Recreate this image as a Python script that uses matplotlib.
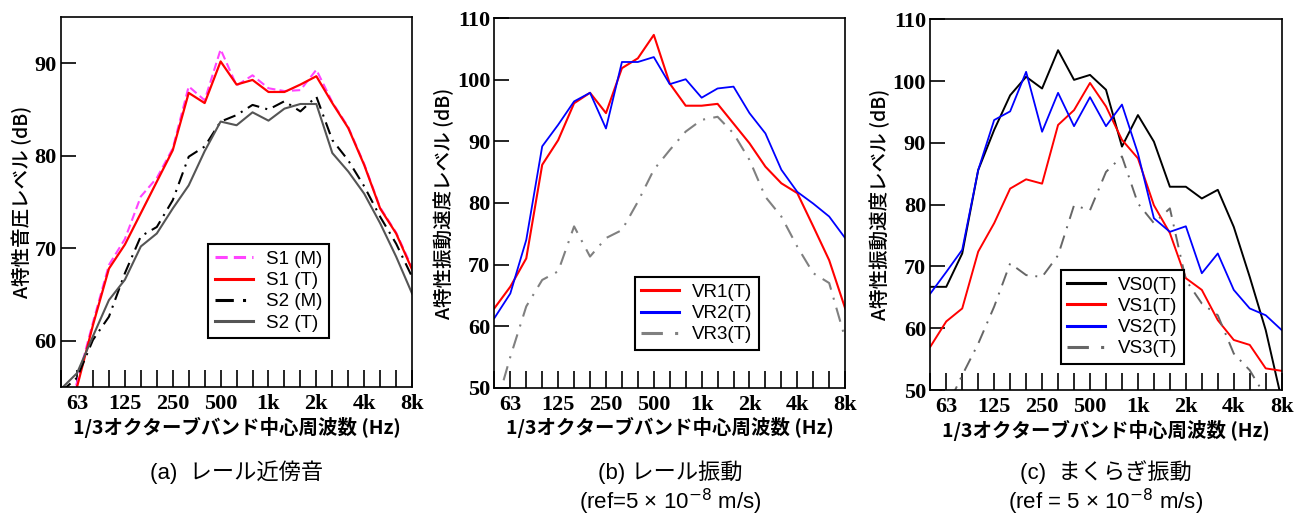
import matplotlib
matplotlib.use('Agg')
import matplotlib.pyplot as plt
import numpy as np

plt.rcParams['font.family'] = ['Noto Sans CJK JP', 'DejaVu Sans']

# 1/3 octave band centres, 50 Hz .. 8 kHz
bands = ['50', '63', '80', '100', '125', '160', '200', '250', '315', '400', '500', '630',
         '800', '1k', '1.25k', '1.6k', '2k', '2.5k', '3.15k', '4k', '5k', '6.3k', '8k']
tick_idx = [1, 4, 7, 10, 13, 16, 19, 22]
tick_lab = ['63', '125', '250', '500', '1k', '2k', '4k', '8k']

# (a) rail near-field sound
s1_m = [50, 55.5, 62.0, 68.2, 71.0, 75.6, 77.6, 80.8, 87.5, 86.0, 91.5, 87.6, 88.7, 87.3, 87.0, 87.1, 89.3, 85.8, 83.1, 79.1, 74.4, 71.7, 67.9]
s1_t = [50, 55.0, 61.7, 67.8, 70.4, 73.8, 77.2, 80.6, 86.8, 85.7, 90.2, 87.7, 88.2, 86.9, 86.9, 87.7, 88.6, 85.7, 83.0, 79.0, 74.3, 71.6, 67.7]
s2_m = [54.5, 56.0, 60.1, 62.6, 67.3, 71.3, 72.3, 75.2, 79.9, 81.0, 83.7, 84.4, 85.5, 85.0, 85.9, 84.8, 86.4, 81.7, 79.5, 76.7, 73.4, 70.5, 66.9]
s2_t = [54.8, 56.5, 60.5, 64.4, 66.6, 70.2, 71.6, 74.3, 76.8, 80.5, 83.7, 83.3, 84.7, 83.8, 85.1, 85.6, 85.6, 80.3, 78.3, 75.9, 72.7, 69.1, 65.1]

# (b) rail vibration
vr1 = [62.9, 66.4, 71.0, 86.2, 90.2, 96.2, 97.9, 94.6, 101.9, 103.5, 107.3, 99.4, 95.8, 95.8, 96.1, 92.9, 89.7, 85.9, 83.2, 81.6, 76.2, 70.7, 62.9]
vr2 = [61.3, 65.3, 74.0, 89.2, 92.7, 96.5, 97.9, 92.1, 102.9, 102.9, 103.7, 99.3, 100.1, 97.1, 98.6, 98.9, 94.6, 91.3, 85.4, 81.8, 79.9, 77.8, 74.3]
vr3 = [46.0, 55.0, 63.2, 67.5, 68.9, 76.2, 71.3, 74.3, 75.6, 80.2, 85.4, 88.6, 91.6, 93.5, 94.0, 91.3, 87.0, 81.0, 77.8, 72.9, 68.6, 67.0, 58.0]

# (c) sleeper vibration
vs0 = [66.7, 66.7, 72.1, 85.6, 92.1, 97.7, 100.7, 98.8, 105.0, 100.2, 101.0, 98.6, 89.4, 94.5, 90.2, 82.9, 82.9, 81.0, 82.4, 76.4, 68.3, 59.7, 48.4]
vs1 = [57.0, 61.1, 63.2, 72.4, 77.0, 82.6, 84.1, 83.4, 92.9, 95.3, 99.7, 95.9, 90.5, 87.5, 79.9, 75.4, 68.1, 66.2, 61.3, 58.1, 57.3, 53.5, 53.1]
vs2 = [65.6, 69.1, 72.7, 85.6, 93.7, 95.1, 101.5, 91.8, 98.1, 92.7, 97.4, 92.7, 96.2, 88.3, 77.8, 75.6, 76.5, 68.9, 72.1, 66.2, 63.2, 62.1, 59.7]
vs3 = [45.0, 47.0, 52.4, 57.5, 63.5, 70.5, 68.6, 68.3, 71.8, 79.9, 79.1, 85.3, 87.8, 80.2, 77.0, 79.4, 67.8, 64.0, 62.1, 55.9, 53.2, 48.9, 45.0]

x = np.arange(len(bands))

fig = plt.figure(figsize=(13.02, 5.15), dpi=100)

tickfont = dict(family='Liberation Serif', weight='bold', size=16)
xlabel = '1/3オクターブバンド中心周波数 (Hz)'


def setup(ax, ylim, yticks, ylab):
    ax.set_xlim(0, len(bands) - 1)
    ax.set_ylim(*ylim)
    ax.set_xticks(tick_idx)
    ax.set_xticklabels(tick_lab, fontdict=tickfont)
    ax.set_xticks(x, minor=True)
    ax.set_yticks(yticks)
    ax.set_yticklabels([str(v) for v in yticks], fontdict=tickfont)
    ax.tick_params(axis='x', which='both', direction='in', length=12, width=1.2, pad=5)
    ax.tick_params(axis='y', which='major', direction='in', length=11, width=1.2, pad=3)
    for sp in ax.spines.values():
        sp.set_linewidth(1.2)
    ax.set_xlabel(xlabel, fontsize=14, fontweight='bold', labelpad=2)
    ax.set_ylabel(ylab, fontsize=14, fontweight='medium', labelpad=2)


def legend(ax, loc):
    leg = ax.legend(loc='lower left', bbox_to_anchor=loc, fancybox=False, framealpha=1,
                    edgecolor='black', handlelength=2.0, borderpad=0.35,
                    labelspacing=0.22, handletextpad=0.7, borderaxespad=0,
                    prop=dict(family='Liberation Sans', size=13.5))
    leg.get_frame().set_linewidth(1.5)
    for ln in leg.get_lines():
        ln.set_linewidth(2.2)


# (a)
ax1 = fig.add_axes([0.0469, 0.2485, 0.2696, 0.7184])
ax1.plot(x, s1_m, color='#ff44ff', ls=(0, (4, 2)), lw=1.5, label='S1 (M)')
ax1.plot(x, s1_t, color='#ff0000', lw=1.6, label='S1 (T)')
ax1.plot(x, s2_m, color='black', ls=(0, (6, 3, 1, 3)), lw=1.5, label='S2 (M)')
ax1.plot(x, s2_t, color='#555555', lw=1.5, label='S2 (T)')
setup(ax1, (55, 95), [60, 70, 80, 90], 'A特性音圧レベル (dB)')
legend(ax1, (0.42, 0.132))

# (b)
ax2 = fig.add_axes([0.3797, 0.2472, 0.2694, 0.7173])
ax2.plot(x, vr1, color='#ff0000', lw=1.5, label='VR1(T)')
ax2.plot(x, vr2, color='#0000ff', lw=1.3, label='VR2(T)')
ax2.plot(x, vr3, color='#808080', ls=(0, (7, 4, 1, 4)), lw=1.5, label='VR3(T)')
setup(ax2, (50, 110), [50, 60, 70, 80, 90, 100, 110], 'A特性振動速度レベル (dB)')
legend(ax2, (0.40, 0.102))

# (c)
ax3 = fig.add_axes([0.7145, 0.2427, 0.2699, 0.7198])
ax3.plot(x, vs0, color='black', lw=1.4, label='VS0(T)')
ax3.plot(x, vs1, color='#ff0000', lw=1.4, label='VS1(T)')
ax3.plot(x, vs2, color='#0000ff', lw=1.3, label='VS2(T)')
ax3.plot(x, vs3, color='#666666', ls=(0, (7, 4, 1, 4)), lw=1.4, label='VS3(T)')
setup(ax3, (50, 110), [50, 60, 70, 80, 90, 100, 110], 'A特性振動速度レベル (dB)')
legend(ax3, (0.371, 0.070))

# captions
cap = dict(ha='center', va='center', fontsize=16, family=['Liberation Sans', 'Noto Sans CJK JP'])
fig.text(236.5 / 1302, 1 - 472 / 515, '(a)  レール近傍音', **cap)
fig.text(670 / 1302, 1 - 472 / 515, '(b) レール振動', **cap)
fig.text(670 / 1302, 1 - 502 / 515, '(ref=5 × 10$^{-8}$ m/s)', **cap)
fig.text(1106 / 1302, 1 - 472 / 515, '(c)  まくらぎ振動', **cap)
fig.text(1106 / 1302, 1 - 502 / 515, '(ref = 5 × 10$^{-8}$ m/s)', **cap)

fig.savefig('out.png', dpi=100)
